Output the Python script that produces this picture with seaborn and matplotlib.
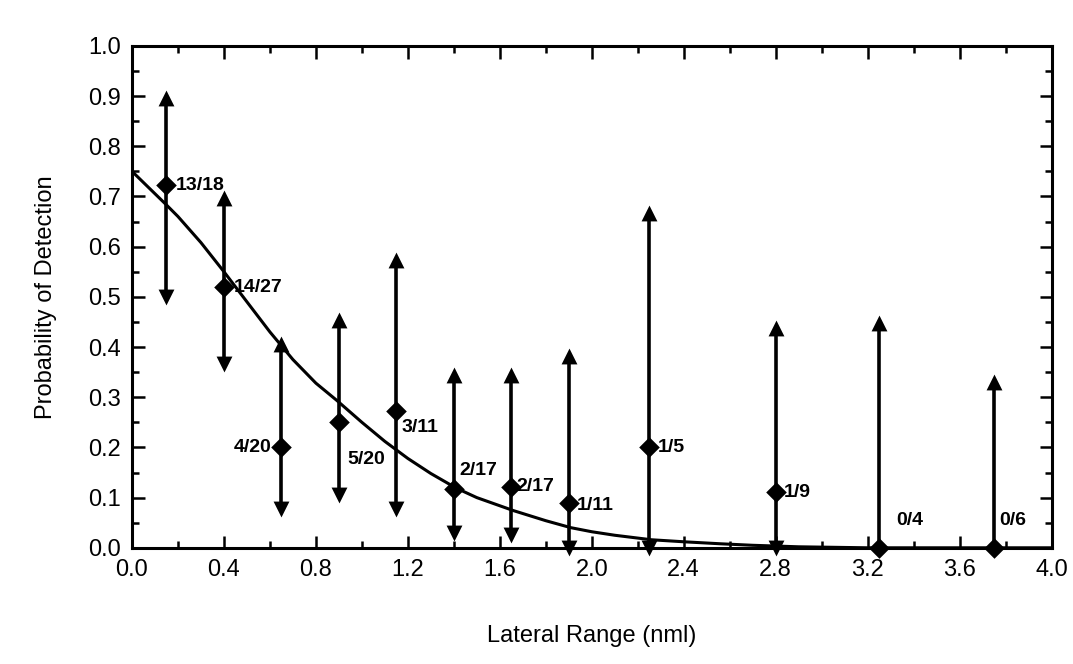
import numpy as np
import pandas as pd
import matplotlib
matplotlib.use("Agg")
import matplotlib.pyplot as plt
import seaborn as sns
from matplotlib.ticker import MultipleLocator, FormatStrFormatter

# ---- data ----
lateral_range = [0.15, 0.40, 0.65, 0.90, 1.15, 1.40, 1.65, 1.90, 2.25, 2.80, 3.25, 3.75]
p_detect = [0.722, 0.519, 0.200, 0.250, 0.273, 0.118, 0.122, 0.090, 0.200, 0.111, 0.0, 0.0]
ci_low = [0.50, 0.367, 0.077, 0.106, 0.077, 0.029, 0.026, 0.0, 0.0, 0.0, 0.0, 0.0]
ci_high = [0.896, 0.696, 0.406, 0.454, 0.574, 0.345, 0.345, 0.383, 0.667, 0.438, 0.448, 0.33]
counts = ["13/18", "14/27", "4/20", "5/20", "3/11", "2/17", "2/17", "1/11", "1/5", "1/9", "0/4", "0/6"]
# label offsets (points) relative to each diamond
label_dx = [7, 7, -7, 6, 4, 4, 4, 6, 6, 6, 12, 4]
label_dy = [0, 0, 0, -27, -12, 13, 0, -2, 0, 0, 20, 20]
label_ha = ["left", "left", "right", "left", "left", "left", "left", "left", "left", "left", "left", "left"]

curve_x = [0.0, 0.15, 0.20, 0.30, 0.40, 0.50, 0.60, 0.70, 0.80, 0.89, 1.00, 1.10, 1.20, 1.30,
           1.41, 1.50, 1.66, 1.80, 1.91, 2.00, 2.10, 2.26, 2.40, 2.56, 2.70, 2.90, 3.20, 4.00]
curve_y = [0.750, 0.683, 0.660, 0.608, 0.550, 0.490, 0.430, 0.375, 0.328, 0.294, 0.250, 0.212,
           0.178, 0.148, 0.119, 0.100, 0.074, 0.054, 0.040, 0.032, 0.025, 0.016, 0.012, 0.008,
           0.005, 0.002, 0.0, 0.0]

obs = pd.DataFrame({"range": lateral_range, "p": p_detect, "lo": ci_low, "hi": ci_high, "n": counts})
curve = pd.DataFrame({"range": curve_x, "p": curve_y})

sns.set_theme(style="ticks")
plt.rcParams["font.family"] = ["Liberation Sans", "DejaVu Sans"]

fig = plt.figure(figsize=(10.73, 6.64), dpi=100)
ax = fig.add_axes([0.123, 0.175, 0.857, 0.756])

# confidence interval stems
ax.vlines(obs["range"], obs["lo"], obs["hi"], colors="black", linewidth=2.6, zorder=2)
# upper arrow heads
sns.scatterplot(data=obs, x="range", y="hi", marker="^", s=130, color="black",
                edgecolor="black", linewidth=0, ax=ax, zorder=3, clip_on=False)
# lower arrow heads (only when a detection exists)
low = obs[obs["p"] > 0]
sns.scatterplot(data=low, x="range", y="lo", marker="v", s=130, color="black",
                edgecolor="black", linewidth=0, ax=ax, zorder=3, clip_on=False)
# fitted curve
sns.lineplot(data=curve, x="range", y="p", color="black", linewidth=2.2, ax=ax, zorder=2)
# observed proportions
sns.scatterplot(data=obs, x="range", y="p", marker="D", s=110, color="black",
                edgecolor="black", linewidth=0, ax=ax, zorder=4, clip_on=False)

for xv, yv, t, dx, dy, ha in zip(lateral_range, p_detect, counts, label_dx, label_dy, label_ha):
    ax.annotate(t, (xv, yv), xytext=(dx, dy), textcoords="offset points",
                ha=ha, va="center", fontsize=14, fontweight="bold", color="black")

ax.set_xlim(0.0, 4.0)
ax.set_ylim(0.0, 1.0)
ax.xaxis.set_major_locator(MultipleLocator(0.4))
ax.xaxis.set_minor_locator(MultipleLocator(0.2))
ax.yaxis.set_major_locator(MultipleLocator(0.1))
ax.yaxis.set_minor_locator(MultipleLocator(0.05))
ax.xaxis.set_major_formatter(FormatStrFormatter("%.1f"))
ax.yaxis.set_major_formatter(FormatStrFormatter("%.1f"))
ax.tick_params(which="both", direction="in", top=True, right=True, color="black",
               width=1.8, labelsize=17, labelcolor="black")
ax.tick_params(which="major", length=9, pad=8)
ax.tick_params(which="minor", length=5)
for s in ax.spines.values():
    s.set_linewidth(2.2)
    s.set_color("black")

ax.set_xlabel("Lateral Range (nml)", fontsize=17, color="black", labelpad=32)
ax.set_ylabel("Probability of Detection", fontsize=17, color="black", labelpad=22)

fig.savefig("out.png", dpi=100, facecolor="white")
